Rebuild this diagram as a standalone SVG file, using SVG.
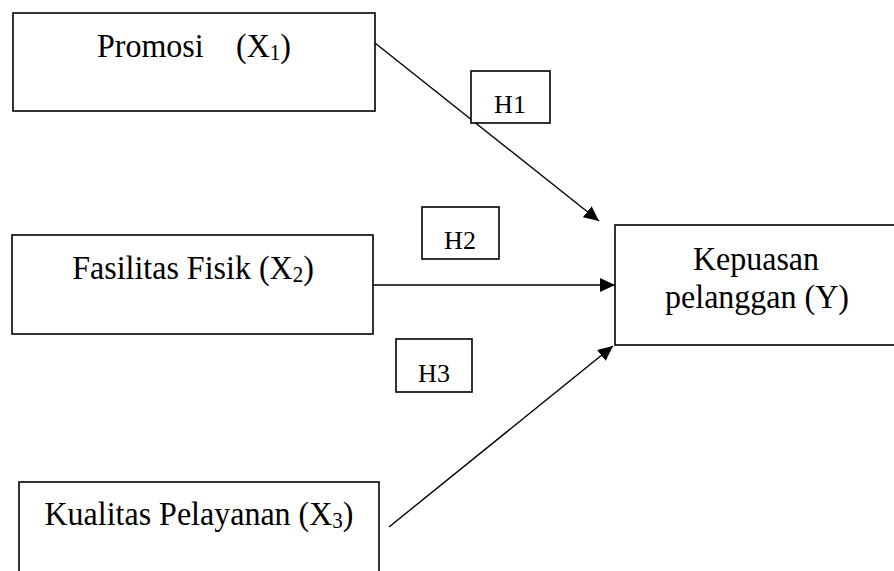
<svg xmlns="http://www.w3.org/2000/svg" width="894" height="571" viewBox="0 0 894 571">
<style>
.box{fill:#fff;stroke:#000;stroke-width:1.6}
.lbl{font-family:"Liberation Serif","Times New Roman",serif;font-size:32px;fill:#000}
.h{font-family:"Liberation Serif","Times New Roman",serif;font-size:26px;fill:#000;text-anchor:middle}
.sub{font-size:21px}
.conn line{stroke:#000;stroke-width:1.4}
</style>
<defs>
<marker id="arr" markerUnits="userSpaceOnUse" markerWidth="16" markerHeight="14" refX="15" refY="7" orient="auto">
<path d="M0,0 L15,7 L0,14 z" fill="#000"/>
</marker>
</defs>
<rect width="894" height="571" fill="#fff"/>
<g class="conn" id="connectors">
<line x1="375" y1="43" x2="599" y2="221" marker-end="url(#arr)"/>
<line x1="373" y1="285" x2="615" y2="285" marker-end="url(#arr)"/>
<line x1="389" y1="527" x2="613" y2="346" marker-end="url(#arr)"/>
</g>
<g id="promosi">
<rect class="box" x="13" y="13" width="362" height="98"/>
<text class="lbl" transform="translate(97,57) scale(1,1.06)" x="0" y="0">Promosi<tspan x="139">(X</tspan><tspan class="sub" dy="3">1</tspan><tspan dy="-3">)</tspan></text>
</g>
<g id="fasilitas">
<rect class="box" x="12" y="235" width="361" height="99"/>
<text class="lbl" transform="translate(193,279) scale(1,1.06)" x="0" y="0" text-anchor="middle">Fasilitas Fisik (X<tspan class="sub" dy="3">2</tspan><tspan dy="-3">)</tspan></text>
</g>
<g id="kualitas">
<rect class="box" x="19" y="482" width="360" height="100"/>
<text class="lbl" transform="translate(199,525) scale(1,1.06)" x="0" y="0" text-anchor="middle">Kualitas Pelayanan (X<tspan class="sub" dy="3">3</tspan><tspan dy="-3">)</tspan></text>
</g>
<g id="kepuasan">
<rect class="box" x="615" y="225" width="300" height="120"/>
<text class="lbl" transform="translate(756,270) scale(1,1.06)" x="0" y="0" text-anchor="middle">Kepuasan</text>
<text class="lbl" transform="translate(757,308) scale(1,1.06)" x="0" y="0" text-anchor="middle">pelanggan (Y)</text>
</g>
<g id="h1">
<rect class="box" x="471" y="71" width="79" height="52"/>
<text class="h" x="510" y="113">H1</text>
</g>
<g id="h2">
<rect class="box" x="422" y="207" width="77" height="52"/>
<text class="h" x="460" y="249">H2</text>
</g>
<g id="h3">
<rect class="box" x="396" y="339" width="76" height="53"/>
<text class="h" x="434" y="382">H3</text>
</g>
</svg>
